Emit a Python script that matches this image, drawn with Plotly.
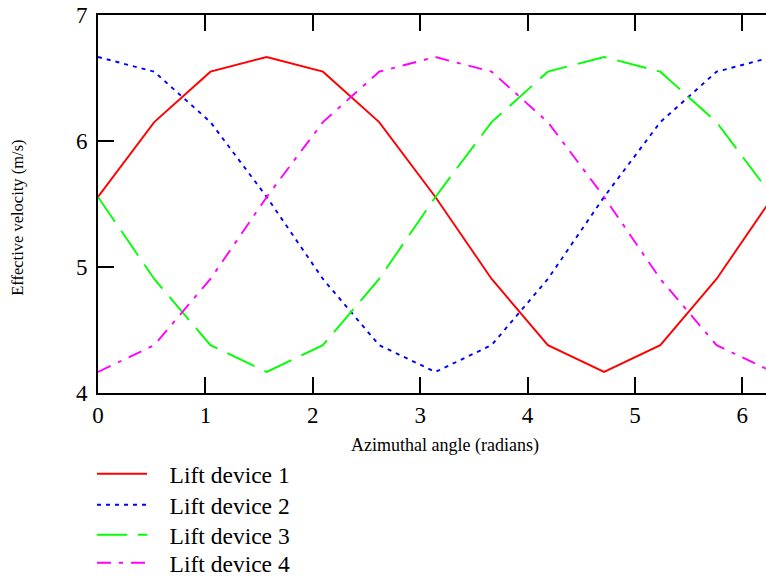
import math
import plotly.graph_objects as go

# Azimuthal sample angles (radians), every 30 degrees over one revolution
angle = [i * math.pi / 6 for i in range(13)]

# Effective velocity seen by each lift device (m/s)
device1 = [5.556, 6.15, 6.55, 6.667, 6.55, 6.15, 5.556, 4.905, 4.38, 4.167, 4.38, 4.905, 5.556]
device2 = [6.667, 6.55, 6.15, 5.556, 4.905, 4.38, 4.167, 4.38, 4.905, 5.556, 6.15, 6.55, 6.667]
device3 = [5.556, 4.905, 4.38, 4.167, 4.38, 4.905, 5.556, 6.15, 6.55, 6.667, 6.55, 6.15, 5.556]
device4 = [4.167, 4.38, 4.905, 5.556, 6.15, 6.55, 6.667, 6.55, 6.15, 5.556, 4.905, 4.38, 4.167]

names = ["Lift device 1", "Lift device 2", "Lift device 3", "Lift device 4"]
colors = ["#ff0000", "#0000ff", "#00ff00", "#ff00ff"]
dashes = ["solid", "4px,5px", "30px,11px", "14px,8px,4px,8px"]

x_ticks = [0, 1, 2, 3, 4, 5, 6]
y_ticks = [4, 5, 6, 7]

FONT = "Liberation Serif"
PAD = "\u00a0" * 3  # gap between legend line sample and its label

# one legend per device so each row can be placed on its own
legend_ids = ["legend", "legend2", "legend3", "legend4"]
legend_rows = [-0.2143, -0.2963, -0.3757, -0.4497]

fig = go.Figure()
for name, ys, col, dash, lid in zip(names, [device1, device2, device3, device4],
                                    colors, dashes, legend_ids):
    fig.add_trace(go.Scatter(
        x=angle, y=ys, mode="lines", name=PAD + name, legend=lid,
        line=dict(color=col, width=1.9, dash=dash),
    ))

legend_style = dict(
    x=-0.009, xanchor="left", yanchor="middle",
    font=dict(family=FONT, size=23.5, color="black"),
    bgcolor="rgba(0,0,0,0)", itemwidth=50,
)
legends = {lid: dict(legend_style, y=row) for lid, row in zip(legend_ids, legend_rows)}

fig.update_layout(
    width=766, height=577,
    margin=dict(l=98, r=0, t=15, b=184, autoexpand=False),
    paper_bgcolor="white", plot_bgcolor="white",
    font=dict(family=FONT, color="black"),
    showlegend=True,
    xaxis=dict(
        range=[0, 6.22], tickvals=x_ticks, ticks="inside", ticklen=16, tickwidth=2,
        tickcolor="black", showline=True, linecolor="black", linewidth=2,
        mirror="ticks", showgrid=False, zeroline=False,
        tickfont=dict(family=FONT, size=23), ticklabelstandoff=0,
    ),
    yaxis=dict(
        range=[4, 7], tickvals=y_ticks, ticks="inside", ticklen=16, tickwidth=2,
        tickcolor="black", showline=True, linecolor="black", linewidth=2,
        mirror=False, showgrid=False, zeroline=False,
        tickfont=dict(family=FONT, size=23), ticklabelstandoff=4,
    ),
    yaxis2=dict(
        range=[4, 7], tickvals=y_ticks, overlaying="y", side="right",
        ticks="inside", ticklen=9, tickwidth=2, tickcolor="black",
        showticklabels=False, showline=False, showgrid=False, zeroline=False,
    ),
    annotations=[
        dict(text="Azimuthal angle (radians)", xref="paper", yref="paper",
             x=0.52, y=-0.138, xanchor="center", yanchor="middle", showarrow=False,
             font=dict(family=FONT, size=18)),
        dict(text="Effective velocity (m/s)", xref="paper", yref="paper",
             x=-0.12, y=0.463, xanchor="center", yanchor="middle", showarrow=False,
             textangle=-90, font=dict(family=FONT, size=16.5)),
    ],
    **legends,
)

fig.write_html("out.html")
